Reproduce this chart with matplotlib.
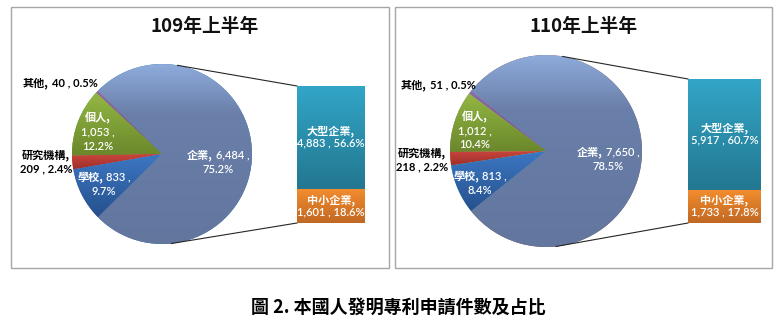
import numpy as np
import matplotlib
matplotlib.use("Agg")
import matplotlib.pyplot as plt
from matplotlib.colors import to_rgb

FONT = ['Noto Sans CJK TC', 'DejaVu Sans']
NUM_FONT = ['Lato', 'Noto Sans CJK TC', 'DejaVu Sans']
plt.rcParams['font.family'] = FONT

# 申請人類別(餅圖)與企業細分(長條)
cats = ['企業', '其他', '個人', '研究機構', '學校']
vals_109 = [6484, 40, 1053, 209, 833]
vals_110 = [7650, 51, 1012, 218, 813]
pct_109 = [75.2, 0.5, 12.2, 2.4, 9.7]
pct_110 = [78.5, 0.5, 10.4, 2.2, 8.4]

sub_cats = ['大型企業', '中小企業']
sub_109 = [4883, 1601]
sub_110 = [5917, 1733]
sub_pct_109 = [56.6, 18.6]
sub_pct_110 = [60.7, 17.8]

titles = ['109年上半年', '110年上半年']
caption = '圖 2. 本國人發明專利申請件數及占比'

# 漸層色 (由上而下的色標)
cat_colors = {
    '企業': [(0, '#8eabdb'), (0.28, '#6a7fa9'), (1, '#62769e')],
    '其他': [(0, '#8a6cad'), (1, '#654b85')],
    '個人': [(0, '#93b743'), (1, '#6a872b')],
    '研究機構': [(0, '#cc463f'), (1, '#9e2f2a')],
    '學校': [(0, '#3c78c4'), (1, '#26508c')],
}
sub_colors = {
    '大型企業': [(0, '#32a6c8'), (1, '#237790')],
    '中小企業': [(0, '#f28c2e'), (1, '#c16823')],
}

W, H = 782, 329
fig = plt.figure(figsize=(W / 100, H / 100), dpi=100)
ax = fig.add_axes([0, 0, 1, 1])
ax.set_xlim(0, W)
ax.set_ylim(0, H)
ax.axis('off')
renderer = fig.canvas.get_renderer()


def gradient(axis, artist, bbox, stops, z=2):
    pos = [s[0] for s in stops]
    cols = np.array([to_rgb(s[1]) for s in stops])
    t = np.linspace(0, 1, 200)
    img = np.stack([np.interp(t, pos, cols[:, k]) for k in range(3)], axis=-1)
    im = axis.imshow(img[:, None, :], extent=[bbox.x0, bbox.x1, bbox.y0, bbox.y1],
                     origin='upper', aspect='auto', interpolation='bilinear',
                     zorder=z)
    im.set_clip_path(artist)


def mixed_line(axis, x, y, parts, color):
    # parts: (文字, 粗細, 字級, 字型); 在畫素座標中置中排列
    texts = [axis.text(0, 0, s, fontsize=fs, fontweight=fw, family=fam,
                       color=color, ha='left', va='center', zorder=6)
             for s, fw, fs, fam in parts]
    widths = [t.get_window_extent(renderer).width for t in texts]
    gap = 3
    x0 = x - (sum(widths) + gap * (len(widths) - 1)) / 2
    for t, w in zip(texts, widths):
        t.set_position((x0, y))
        x0 += w + gap


def label(lines, x, y, color, dy=14):
    n = len(lines)
    for i, parts in enumerate(lines):
        mixed_line(ax, x, H - (y + (i - (n - 1) / 2) * dy), parts, color)


panels = [
    dict(vals=vals_109, pct=pct_109, sub=sub_109, sub_pct=sub_pct_109,
         title=titles[0], box=(11, 7, 389, 268), title_xy=(205, 27),
         center=(162, 154), r=90, bar=(297, 86, 365, 223),
         spots={'其他': (60, 83), '個人': (98, 132), '研究機構': (46, 162),
                '學校': (104, 184), '企業': (218, 162)}),
    dict(vals=vals_110, pct=pct_110, sub=sub_110, sub_pct=sub_pct_110,
         title=titles[1], box=(395, 7, 772, 268), title_xy=(584, 27),
         center=(546, 151), r=96, bar=(688, 79, 761, 223),
         spots={'其他': (438, 85), '個人': (475, 131), '研究機構': (422, 160),
                '學校': (480, 183), '企業': (608, 159)}),
]

NAME_FS, NUM_FS = 8, 8


def name(s):
    return (s, 'bold', NAME_FS, FONT)


def num(s, w='semibold'):
    return (s, w, NUM_FS, NUM_FONT)


for p in panels:
    bx0, by0, bx1, by1 = p['box']
    ax.add_patch(plt.Rectangle((bx0, H - by1), bx1 - bx0, by1 - by0,
                               fill=False, edgecolor='#a6a6a6', lw=1.0, zorder=0))
    ax.text(p['title_xy'][0], H - p['title_xy'][1], p['title'], fontsize=13.5,
            fontweight='bold', ha='center', va='center', color='#111111')

    cx, cy = p['center']
    r = p['r']
    frac = p['vals'][0] / sum(p['vals'])
    wedges, _ = ax.pie(p['vals'], center=(cx, H - cy), radius=r,
                       startangle=-frac * 180, counterclock=True, frame=True,
                       wedgeprops=dict(linewidth=0))
    for cat, w in zip(cats, wedges):
        bb = w.get_path().get_extents()
        gradient(ax, w, bb, cat_colors[cat])

    # 連接線
    x0b, y0b, x1b, y1b = p['bar']
    for ang, (tx, ty) in [(80, (x0b, y0b)), (-84, (x0b, y1b))]:
        a = np.radians(ang)
        ax.plot([cx + r * np.cos(a), tx], [H - cy + r * np.sin(a), H - ty],
                color='#262626', lw=0.8, zorder=3)

    # 餅圖標籤
    for cat, v, pc in zip(cats, p['vals'], p['pct']):
        x, y = p['spots'][cat]
        vs = f'{v:,}'
        if cat == '其他':
            label([[name(cat + ','), num(f'{vs} , {pc}%', 'bold')]], x, y, 'black')
        elif cat == '研究機構':
            label([[name(cat + ',')], [num(f'{vs} , {pc}%', 'bold')]], x, y, 'black')
        elif cat == '個人':
            label([[name(cat + ',')], [num(f'{vs} ,')], [num(f'{pc}%')]],
                  x, y, 'white')
        else:
            label([[name(cat + ','), num(f'{vs} ,')], [num(f'{pc}%')]],
                  x, y, 'white', dy=15)

    # 企業細分長條
    bax = fig.add_axes([x0b / W, (H - y1b) / H, (x1b - x0b) / W, (y1b - y0b) / H])
    bax.set_xlim(-0.5, 0.5)
    bax.set_ylim(0, sum(p['sub']))
    bax.axis('off')
    big, small = p['sub']
    bars = [bax.bar(0, small, width=1, linewidth=0)[0],
            bax.bar(0, big, bottom=small, width=1, linewidth=0)[0]]
    for nm, rect in zip(['中小企業', '大型企業'], bars):
        gradient(bax, rect, rect.get_bbox(), sub_colors[nm])
    for nm, v, pc, mid in [(sub_cats[0], big, p['sub_pct'][0], small + big / 2),
                           (sub_cats[1], small, p['sub_pct'][1], small / 2)]:
        bax.text(0, mid, f'{nm},', fontsize=NAME_FS, fontweight='bold',
                 color='white', ha='center', va='bottom', zorder=6)
        bax.text(0, mid, f'{v:,} , {pc}%', fontsize=NUM_FS, fontweight='semibold',
                 family=NUM_FONT, color='white', ha='center', va='top', zorder=6)

ax.text(398, H - 307, caption, fontsize=13, fontweight='bold',
        ha='center', va='center', color='black')

fig.savefig('out.png', dpi=100)
